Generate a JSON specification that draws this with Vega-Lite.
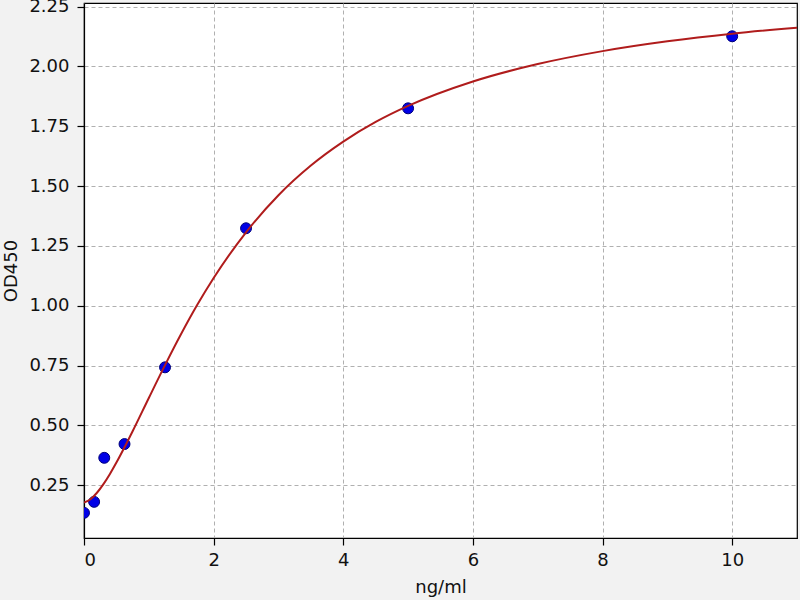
{
  "$schema": "https://vega.github.io/schema/vega-lite/v6.json",
  "width": 713,
  "height": 535,
  "autosize": {"type": "none"},
  "padding": {"left": 84, "top": 3, "right": 3, "bottom": 62},
  "background": "#f2f2f2",
  "config": {
    "view": {"fill": "white", "stroke": "black", "strokeWidth": 1.2},
    "font": "DejaVu Sans",
    "axis": {
      "labelFont": "DejaVu Sans",
      "titleFont": "DejaVu Sans",
      "labelFontSize": 18,
      "titleFontSize": 18,
      "labelColor": "#111111",
      "titleColor": "#111111",
      "titleFontWeight": "normal",
      "domainColor": "black",
      "domainWidth": 1.2,
      "tickColor": "black",
      "tickSize": 7,
      "tickWidth": 1.2,
      "gridColor": "#b0b0b0",
      "gridDash": [4, 3],
      "gridWidth": 1
    }
  },
  "datasets": {
    "points": [
      {"conc": 0, "od": 0.135},
      {"conc": 0.156, "od": 0.181},
      {"conc": 0.3125, "od": 0.365},
      {"conc": 0.625, "od": 0.4225},
      {"conc": 1.25, "od": 0.743},
      {"conc": 2.5, "od": 1.324},
      {"conc": 5, "od": 1.825},
      {"conc": 10, "od": 2.126}
    ],
    "curve": [
      {"conc": 0, "od": 0.178},
      {"conc": 0.1, "od": 0.192},
      {"conc": 0.2, "od": 0.219},
      {"conc": 0.3, "od": 0.255},
      {"conc": 0.4, "od": 0.2975},
      {"conc": 0.5, "od": 0.345},
      {"conc": 0.625, "od": 0.409},
      {"conc": 0.75, "od": 0.476},
      {"conc": 1, "od": 0.615},
      {"conc": 1.25, "od": 0.752},
      {"conc": 1.5, "od": 0.883},
      {"conc": 1.75, "od": 1.005},
      {"conc": 2, "od": 1.116},
      {"conc": 2.5, "od": 1.307},
      {"conc": 3, "od": 1.462},
      {"conc": 3.5, "od": 1.586},
      {"conc": 4, "od": 1.686},
      {"conc": 4.5, "od": 1.768},
      {"conc": 5, "od": 1.835},
      {"conc": 6, "od": 1.937},
      {"conc": 7, "od": 2.01},
      {"conc": 8, "od": 2.064},
      {"conc": 9, "od": 2.105},
      {"conc": 10, "od": 2.137},
      {"conc": 11, "od": 2.162}
    ]
  },
  "encoding": {
    "x": {
      "field": "conc",
      "type": "quantitative",
      "title": "ng/ml",
      "scale": {"domain": [0, 11], "nice": false, "zero": false},
      "axis": {"values": [0, 2, 4, 6, 8, 10], "labelPadding": 6, "titlePadding": 9}
    },
    "y": {
      "field": "od",
      "type": "quantitative",
      "title": "OD450",
      "scale": {"domain": [0.03, 2.265], "nice": false, "zero": false},
      "axis": {"values": [0.25, 0.5, 0.75, 1, 1.25, 1.5, 1.75, 2, 2.25], "format": ".2f", "labelPadding": 8, "titlePadding": 8}
    }
  },
  "layer": [
    {
      "data": {"name": "points"},
      "mark": {"type": "point", "filled": true, "fill": "#0000e6", "stroke": "#00007a", "strokeWidth": 1, "size": 120, "opacity": 1, "clip": true}
    },
    {
      "data": {"name": "curve"},
      "mark": {"type": "line", "color": "#b01c1c", "strokeWidth": 2, "interpolate": "monotone", "clip": true}
    }
  ]
}
